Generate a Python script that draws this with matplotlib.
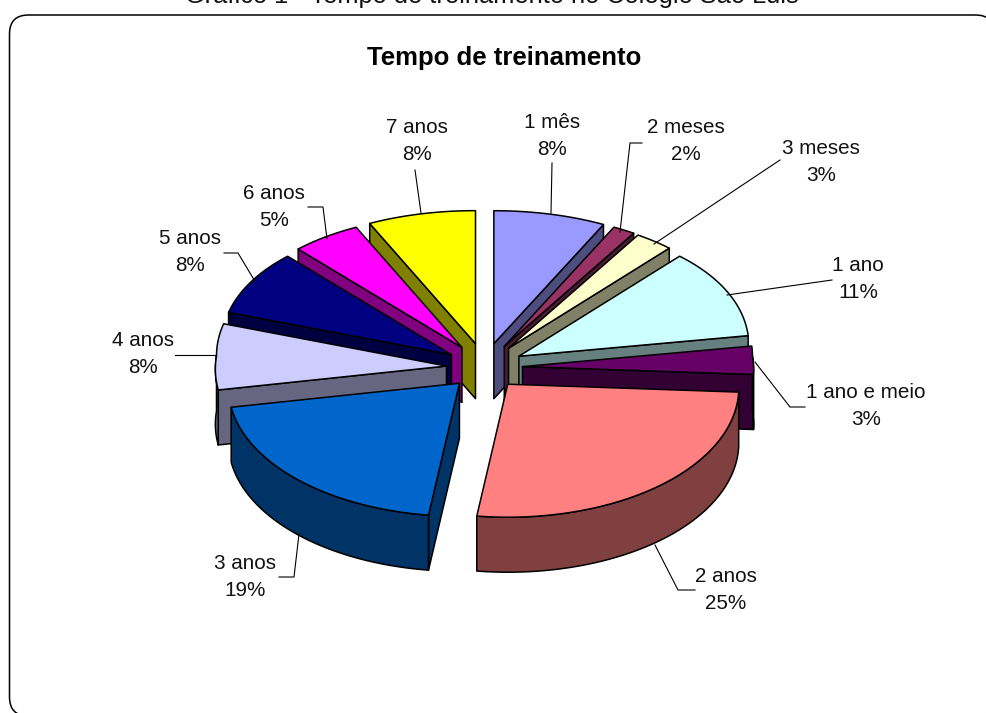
import numpy as np
import matplotlib
matplotlib.use("Agg")
import matplotlib.pyplot as plt
from matplotlib.patches import FancyBboxPatch, Polygon

# data (shares, labels show them rounded)
categories = ["1 mês", "2 meses", "3 meses", "1 ano", "1 ano e meio", "2 anos",
              "3 anos", "4 anos", "5 anos", "6 anos", "7 anos"]
values = [7.9, 1.6, 2.8, 11.4, 3.4, 24.8, 19.0, 8.0, 8.4, 5.0, 7.6]
colors = ["#9999FF", "#993366", "#FFFFCC", "#CCFFFF", "#660066", "#FF8080",
          "#0066CC", "#CCCCFF", "#000080", "#FF00FF", "#FFFF00"]
caption = "Gráfico 1 - Tempo de treinamento no Colégio São Luis"
title = "Tempo de treinamento"

# label centres and leader lines, in pixels
label_pos = [(552, 136), (686, 141), (821, 162), (858, 279), (866, 406), (726, 590),
             (245, 577), (143, 354), (190, 252), (274, 207), (417, 141)]
leaders = [
    [(552, 163), (551, 213)],
    [(642, 143), (630, 143), (620, 232)],
    [(780, 160), (654, 244)],
    [(832, 280), (727, 295)],
    [(805, 407), (790, 407), (755, 362)],
    [(695, 590), (678, 590), (655, 545)],
    [(279, 577), (294, 577), (299, 534)],
    [(175, 355), (216, 355)],
    [(224, 253), (238, 253), (256, 283)],
    [(308, 207), (323, 207), (327, 239)],
    [(415, 170), (421, 213)],
]

# pie geometry
CX, CY = 484.5, 366
RX, RY = 230, 133
EXPLODE_X, EXPLODE_Y = 38, 23
DEPTH = 55
BULGE = 10  # perspective: the sides of the ellipse sit a bit higher
NEAR_GROW = 0.1  # perspective: the near half is a little wider


def darken(color):
    r, g, b = matplotlib.colors.to_rgb(color)
    return (r * 0.5, g * 0.5, b * 0.5)


def arc_points(ax0, ay0, t0, t1):
    t = np.linspace(t0, t1, 80)
    x = ax0 + RX * (1 + NEAR_GROW * np.maximum(0, -np.cos(t))) * np.sin(t)
    y = ay0 - RY * np.cos(t) - BULGE * np.sin(t) ** 2
    return np.column_stack([x, y])


fig = plt.figure(figsize=(9.86, 7.13), dpi=100)
ax = fig.add_axes([0, 0, 1, 1])
ax.set_xlim(0, 986)
ax.set_ylim(713, 0)
ax.axis("off")

plt.rcParams["font.family"] = ["Liberation Sans", "DejaVu Sans"]

ax.add_patch(FancyBboxPatch((9.5, 15), 985, 701, boxstyle="round,pad=0,rounding_size=19",
                            fc="white", ec="black", lw=1.1))
ax.text(492, 3, caption, ha="center", va="baseline", fontsize=18.3, color="#111111")
ax.text(504, 65, title, ha="center", va="baseline", fontsize=18.5, fontweight="bold", color="black")

total = sum(values)
edges = np.cumsum([0] + values) / total * 2 * np.pi

slices = []
for i in range(len(values)):
    mid = (edges[i] + edges[i + 1]) / 2
    slices.append((-np.cos(mid), i, mid))

# back slices first, the front ones paint over them
for _, i, mid in sorted(slices):
    px = CX + EXPLODE_X * np.sin(mid)
    py = CY - EXPLODE_Y * np.cos(mid)
    arc = arc_points(px, py, edges[i], edges[i + 1])
    wall = darken(colors[i])
    style = dict(ec="black", lw=1.1, joinstyle="round")

    # cut faces, only the ones turned to the viewer
    faces = []
    if edges[i] > np.pi:
        faces.append(arc[0])
    if edges[i + 1] < np.pi:
        faces.append(arc[-1])
    for end in faces:
        quad = [(px, py), end, end + [0, DEPTH], (px, py + DEPTH)]
        ax.add_patch(Polygon(quad, closed=True, fc=wall, **style))

    # outer rim, only the part that faces the viewer
    t0 = max(edges[i], np.pi / 2)
    t1 = min(edges[i + 1], 3 * np.pi / 2)
    if t1 > t0:
        front = arc_points(px, py, t0, t1)
        rim = np.vstack([front, (front + [0, DEPTH])[::-1]])
        ax.add_patch(Polygon(rim, closed=True, fc=wall, **style))

    top = np.vstack([[(px, py)], arc])
    ax.add_patch(Polygon(top, closed=True, fc=colors[i], **style))

for name, value, pos, line in zip(categories, values, label_pos, leaders):
    xs, ys = zip(*line)
    ax.plot(xs, ys, color="black", lw=0.8)
    ax.text(pos[0], pos[1], f"{name}\n{round(value)}%", ha="center", va="center", ma="center",
            fontsize=14.9, linespacing=1.48, color="#111111")

fig.savefig("out.png", dpi=100)
